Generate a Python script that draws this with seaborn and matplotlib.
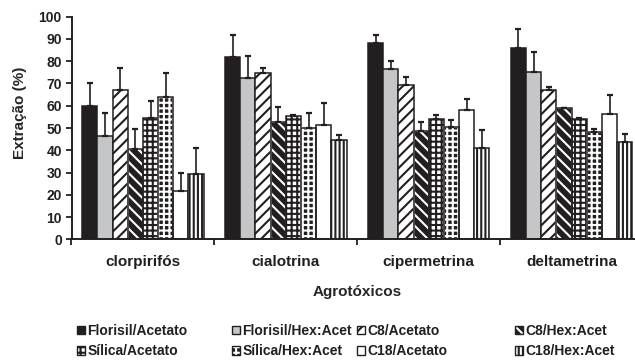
import matplotlib
matplotlib.use("Agg")
import numpy as np
import pandas as pd
import matplotlib.pyplot as plt
from matplotlib.patches import Patch, Rectangle
import seaborn as sns

# Pesticides (x categories) and extraction methods (hue levels)
compounds = ["clorpirifós", "cialotrina", "cipermetrina", "deltametrina"]
methods = ["Florisil/Acetato", "Florisil/Hex:Acet", "C8/Acetato", "C8/Hex:Acet",
           "Sílica/Acetato", "Sílica/Hex:Acet", "C18/Acetato", "C18/Hex:Acet"]

# Mean extraction (%) per method, one value per compound
florisil_acet = [60.0, 82.0, 88.0, 86.0]
florisil_hex = [46.4, 72.6, 76.6, 75.3]
c8_acet = [67.0, 74.6, 69.5, 66.9]
c8_hex = [40.4, 52.8, 48.5, 58.9]
silica_acet = [54.4, 55.2, 54.0, 54.0]
silica_hex = [63.8, 50.0, 50.4, 48.2]
c18_acet = [21.8, 51.2, 58.0, 56.2]
c18_hex = [29.5, 44.5, 41.0, 43.8]

# Standard deviations (upper error bars)
florisil_acet_sd = [10.0, 9.7, 3.6, 8.5]
florisil_hex_sd = [10.2, 9.9, 3.5, 8.7]
c8_acet_sd = [10.1, 2.5, 3.4, 1.7]
c8_hex_sd = [9.1, 6.8, 4.1, 0.0]
silica_acet_sd = [7.7, 0.6, 1.8, 0.5]
silica_hex_sd = [11.0, 6.6, 3.1, 1.5]
c18_acet_sd = [8.1, 10.2, 4.9, 8.6]
c18_hex_sd = [11.7, 2.4, 8.1, 3.3]

values = [florisil_acet, florisil_hex, c8_acet, c8_hex,
          silica_acet, silica_hex, c18_acet, c18_hex]
errors = [florisil_acet_sd, florisil_hex_sd, c8_acet_sd, c8_hex_sd,
          silica_acet_sd, silica_hex_sd, c18_acet_sd, c18_hex_sd]

rows = []
for m, vals, sds in zip(methods, values, errors):
    for c, v, s in zip(compounds, vals, sds):
        rows.append({"compound": c, "method": m, "value": v, "sd": s})
df = pd.DataFrame(rows)

INK = "#231f20"
GREY = "#c5c6c8"
styles = {
    "Florisil/Acetato": dict(face=INK, hatch=None, hcol=INK),
    "Florisil/Hex:Acet": dict(face=GREY, hatch=None, hcol=INK),
    "C8/Acetato": dict(face="white", hatch="///", hcol=INK),
    "C8/Hex:Acet": dict(face=INK, hatch="\\\\\\", hcol="white"),
    "Sílica/Acetato": dict(face="white", hatch="+++", hcol=INK),
    "Sílica/Hex:Acet": dict(face=INK, hatch="+++", hcol="white"),
    "C18/Acetato": dict(face="white", hatch=None, hcol=INK),
    "C18/Hex:Acet": dict(face="white", hatch="||||", hcol=INK),
}

sns.set_theme(style="white")
plt.rcParams["font.family"] = ["Liberation Sans", "DejaVu Sans"]
plt.rcParams["font.weight"] = "bold"
plt.rcParams["hatch.linewidth"] = 1.5
plt.rcParams["text.color"] = INK

fig = plt.figure(figsize=(6.35, 3.61), dpi=100)
ax = fig.add_axes([71.5 / 635, 1 - 239.3 / 361, (643 - 71.5) / 635, 222.6 / 361])

sns.barplot(data=df, x="compound", y="value", hue="method",
            order=compounds, hue_order=methods,
            palette=[styles[m]["face"] for m in methods], saturation=1,
            width=0.85, errorbar=None, edgecolor=INK, linewidth=1.1,
            legend=False, ax=ax)

BAR_LW = 1.1
for m, cont in zip(methods, ax.containers):
    st = styles[m]
    sub = df[df["method"] == m].set_index("compound").loc[compounds]
    for bar in cont:
        if st["hatch"]:
            bar.set_hatch(st["hatch"])
            bar.set_edgecolor(st["hcol"])
        if st["hcol"] == "white":
            ax.add_patch(Rectangle((bar.get_x(), bar.get_y()), bar.get_width(),
                                   bar.get_height(), fill=False, edgecolor=INK,
                                   linewidth=BAR_LW, zorder=bar.get_zorder() + 0.1))
    xs = [b.get_x() + b.get_width() / 2 for b in cont]
    hs = [b.get_height() for b in cont]
    sds = sub["sd"].to_numpy()
    ax.errorbar(xs, hs, yerr=[np.zeros_like(sds), sds], fmt="none",
                ecolor=INK, elinewidth=1.2, capsize=2.3, capthick=1.6, zorder=5)

# Axes styling
ax.set_ylim(0, 100)
ax.set_xlim(-0.5, 3.5)
ax.set_yticks(np.arange(0, 101, 10))
ax.set_yticklabels([str(v) for v in range(0, 101, 10)], fontsize=10, fontweight="bold")
ax.set_xticks(range(len(compounds)))
ax.set_xticklabels(compounds, fontsize=11, fontweight="bold")
ax.set_xticks(np.arange(-0.5, 3.6, 1.0), minor=True)
ax.tick_params(axis="x", which="major", length=0, pad=11, colors=INK)
ax.tick_params(axis="x", which="minor", bottom=True, length=4, width=1.3,
               direction="out", color=INK)
ax.tick_params(axis="y", left=True, length=4, width=1.3, direction="out",
               pad=3, colors=INK)
for side in ("top", "right"):
    ax.spines[side].set_visible(False)
for side in ("left", "bottom"):
    ax.spines[side].set_linewidth(1.4)
    ax.spines[side].set_color(INK)

ax.set_xlabel("Agrotóxicos", fontsize=11, fontweight="bold", labelpad=12)
ax.set_ylabel("Extração (%)", fontsize=11, fontweight="bold")
ax.yaxis.set_label_coords(-0.078, 0.57)


def legend_handle(m):
    st = styles[m]
    if st["hcol"] == "white":
        return (Patch(facecolor=st["face"], edgecolor="white", hatch=st["hatch"], linewidth=0),
                Patch(facecolor="none", edgecolor=INK, linewidth=1.0))
    return Patch(facecolor=st["face"], edgecolor=INK, hatch=st["hatch"], linewidth=1.0)


# Legend laid out in four columns of two rows under the plot
col_x = [77, 232, 357, 515]
for j, x in enumerate(col_x):
    pair = [methods[j], methods[j + 4]]
    fig.legend([legend_handle(m) for m in pair], pair,
               loc="upper left", bbox_to_anchor=(x / 635, 1 - 324 / 361),
               frameon=False, borderpad=0, borderaxespad=0,
               handlelength=0.55, handleheight=0.55, handletextpad=0.2,
               labelspacing=0.45, prop={"size": 10, "weight": "bold"})

fig.savefig("out.png", dpi=100)
